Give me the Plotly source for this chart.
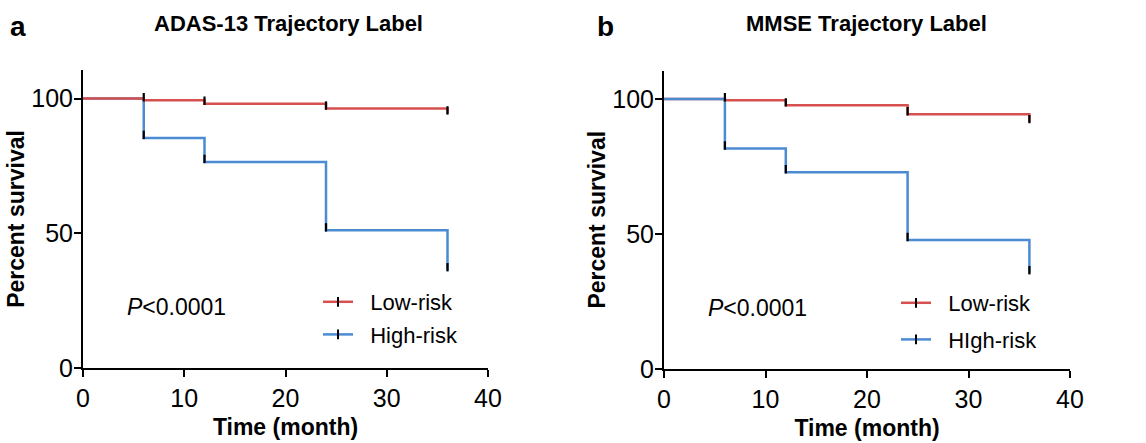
import plotly.graph_objects as go

# ---- data ----
times = [0, 6, 12, 24, 36]
adas_low = [100, 99.4, 98.1, 96.3, 94.5]
adas_high = [100, 85.4, 76.5, 51.1, 36.3]
mmse_low = [100, 99.6, 97.7, 94.4, 91.5]
mmse_high = [100, 81.7, 72.9, 47.8, 35.5]
names_a = ["Low-risk", "High-risk"]
names_b = ["Low-risk", "HIgh-risk"]
panel_titles = ["ADAS-13 Trajectory Label", "MMSE Trajectory Label"]
panel_letters = ["a", "b"]
x_ticks = [0, 10, 20, 30, 40]
y_ticks = [0, 50, 100]
x_title = "Time (month)"
y_title = "Percent survival"
p_label = "<i>P</i>&lt;0.0001"

RED = "#d6504f"
BLUE = "#4a8bd2"
FONT = "Liberation Sans"
PAD = "\u00a0\u00a0"

fig = go.Figure()


def add_panel(xa, ya, leg, low, high, names, high_on_top):
    order = [(high, BLUE, names[1]), (low, RED, names[0])] if not high_on_top else [(low, RED, names[0]), (high, BLUE, names[1])]
    for vals, col, nm in order:
        fig.add_trace(go.Scatter(x=times, y=vals, mode="lines", line=dict(color=col, width=2.5, shape="hv"),
                                 xaxis=xa, yaxis=ya, showlegend=False, hoverinfo="skip"))
    for vals, col, nm in order:
        fig.add_trace(go.Scatter(x=times[1:], y=[v + 1.1 for v in vals[1:]], mode="markers",
                                 marker=dict(symbol="line-ns", size=6, line=dict(color="black", width=2.2)),
                                 xaxis=xa, yaxis=ya, showlegend=False, hoverinfo="skip"))
    for vals, col, nm in [(low, RED, names[0]), (high, BLUE, names[1])]:
        fig.add_trace(go.Scatter(x=[None], y=[None], mode="lines+markers", name=PAD + nm,
                                 line=dict(color=col, width=2.5),
                                 marker=dict(symbol="line-ns", size=7, line=dict(color="black", width=2)),
                                 xaxis=xa, yaxis=ya, legend=leg, legendgroup=nm + leg, showlegend=True))


add_panel("x", "y", "legend", adas_low, adas_high, names_a, high_on_top=False)
add_panel("x2", "y2", "legend2", mmse_low, mmse_high, names_b, high_on_top=True)

ax_common = dict(showline=True, linecolor="black", linewidth=2, ticks="outside", ticklen=7, tickwidth=2,
                 tickcolor="black", showgrid=False, zeroline=False, automargin=False,
                 tickfont=dict(family=FONT, size=25, color="black"))
xcommon = dict(ax_common, range=[0, 40], tickvals=x_ticks,
               title=dict(text="<b>" + x_title + "</b>", font=dict(family=FONT, size=23, color="black"), standoff=8))
ycommon = dict(ax_common, range=[0, 110.6], tickvals=y_ticks, ticklabelstandoff=-4,
               title=dict(text="<b>" + y_title + "</b>", font=dict(family=FONT, size=23, color="black"), standoff=0))

fig.update_layout(
    width=1146, height=443,
    margin=dict(l=0, r=0, t=0, b=0),
    paper_bgcolor="white", plot_bgcolor="white",
    xaxis=dict(xcommon, domain=[83 / 1146, 488 / 1146], anchor="y"),
    yaxis=dict(ycommon, domain=[(443 - 368) / 443, (443 - 70) / 443], anchor="x"),
    xaxis2=dict(xcommon, domain=[664 / 1146, 1070 / 1146], anchor="y2"),
    yaxis2=dict(ycommon, domain=[(443 - 369) / 443, (443 - 70.5) / 443], anchor="x2"),
    legend=dict(x=318 / 1146, xanchor="left", y=(443 - 281) / 443, yanchor="top",
                font=dict(family=FONT, size=22, color="black"), bgcolor="rgba(0,0,0,0)",
                traceorder="grouped", tracegroupgap=1),
    legend2=dict(x=896 / 1146, xanchor="left", y=(443 - 282) / 443, yanchor="top",
                 font=dict(family=FONT, size=22, color="black"), bgcolor="rgba(0,0,0,0)",
                 traceorder="grouped", tracegroupgap=5),
)

annotations = []
for i, (ttl, cx) in enumerate(zip(panel_titles, [288, 866])):
    annotations.append(dict(text="<b>" + ttl + "</b>", x=cx / 1146, y=1 - 24 / 443, xref="paper", yref="paper",
                            xanchor="center", yanchor="middle", showarrow=False,
                            font=dict(family=FONT, size=22, color="black")))
for lt, lx in zip(panel_letters, [18, 605]):
    annotations.append(dict(text="<b>" + lt + "</b>", x=lx / 1146, y=1 - 27 / 443, xref="paper", yref="paper",
                            xanchor="center", yanchor="middle", showarrow=False,
                            font=dict(family=FONT, size=28, color="black")))
for xr, yr in [("x", "y"), ("x2", "y2")]:
    annotations.append(dict(text=p_label, x=4.1, y=22.6, xref=xr, yref=yr, xanchor="left", yanchor="middle",
                            showarrow=False, font=dict(family=FONT, size=23, color="black")))
fig.update_layout(annotations=annotations)

fig.write_html("out.html")
